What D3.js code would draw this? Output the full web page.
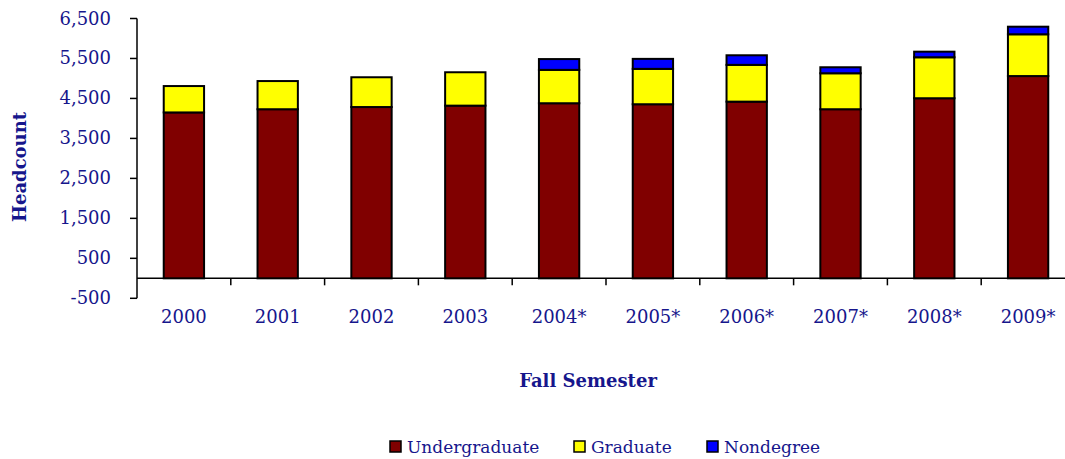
<!DOCTYPE html>
<html>
<head>
<meta charset="utf-8">
<script src="https://cdn.jsdelivr.net/npm/d3@7"></script>
<style>
  body { margin: 0; background: #fff; }
  text { font-family: "DejaVu Serif", "Liberation Serif", serif; fill: #16168c; }
</style>
</head>
<body>
<div class="chart"></div>
<script>
const years = ["2000", "2001", "2002", "2003", "2004*", "2005*", "2006*", "2007*", "2008*", "2009*"];
const undergraduate = [4150, 4230, 4285, 4320, 4380, 4355, 4420, 4230, 4505, 5060];
const graduate = [660, 705, 745, 835, 835, 885, 920, 900, 1025, 1045];
const nondegree = [0, 0, 0, 0, 270, 250, 240, 150, 140, 190];
const seriesNames = ["Undergraduate", "Graduate", "Nondegree"];
const seriesColors = ["#800000", "#ffff00", "#0000ff"];
const yTicks = [-500, 500, 1500, 2500, 3500, 4500, 5500, 6500];

const width = 1065, height = 459;

const svg = d3.select("div.chart").append("svg")
    .attr("width", width)
    .attr("height", height);

const x = d3.scaleBand()
    .domain(years)
    .range([137, 1075])
    .paddingInner(0.57)
    .paddingOuter(0.285);

const y = d3.scaleLinear()
    .domain([-500, 6500])
    .range([298.3, 18.5]);

// build rows for the stack
let rows = years.map((yr, i) => ({
  year: yr,
  Undergraduate: undergraduate[i],
  Graduate: graduate[i],
  Nondegree: nondegree[i]
}));
let stacked = d3.stack().keys(seriesNames)(rows);

// plain hyphen for negatives, like the original
const fmt = d3.formatLocale({ decimal: ".", thousands: ",", grouping: [3], currency: ["$", ""], minus: "-" }).format(",");

// y axis
svg.append("line")
    .attr("x1", x.range()[0]).attr("x2", x.range()[0])
    .attr("y1", y(6500)).attr("y2", y(-500))
    .attr("stroke", "black").attr("stroke-width", 1.5);

svg.selectAll("line.ytick")
    .data(yTicks)
    .enter().append("line")
    .attr("class", "ytick")
    .attr("x1", x.range()[0] - 7).attr("x2", x.range()[0])
    .attr("y1", d => y(d)).attr("y2", d => y(d))
    .attr("stroke", "black").attr("stroke-width", 1.5);

svg.selectAll("text.ytick")
    .data(yTicks)
    .enter().append("text")
    .attr("class", "ytick")
    .attr("x", 111)
    .attr("y", d => y(d))
    .attr("dy", 6)
    .attr("text-anchor", "end")
    .style("font-size", "18px")
    .text(d => fmt(d));

// x axis along zero
svg.append("line")
    .attr("x1", x.range()[0]).attr("x2", x.range()[1])
    .attr("y1", y(0)).attr("y2", y(0))
    .attr("stroke", "black").attr("stroke-width", 1.5);

let boundaries = years.slice(1).map(d => x(d) - x.step() * x.paddingInner() / 2);
svg.selectAll("line.xtick")
    .data(boundaries)
    .enter().append("line")
    .attr("class", "xtick")
    .attr("x1", d => d).attr("x2", d => d)
    .attr("y1", y(0)).attr("y2", y(0) + 7)
    .attr("stroke", "black").attr("stroke-width", 1.5);

svg.selectAll("text.xlabel")
    .data(years)
    .enter().append("text")
    .attr("class", "xlabel")
    .attr("x", d => x(d) + x.bandwidth() / 2)
    .attr("y", 323)
    .attr("text-anchor", "middle")
    .style("font-size", "18px")
    .text(d => d);

// bars
svg.selectAll("g.series")
    .data(stacked)
    .enter().append("g")
    .attr("class", "series")
    .style("fill", (d, i) => seriesColors[i])
    .selectAll("rect")
    .data(d => d.filter(s => s[1] - s[0] > 0))
    .enter().append("rect")
    .attr("x", d => x(d.data.year))
    .attr("y", d => y(d[1]))
    .attr("width", x.bandwidth())
    .attr("height", d => y(d[0]) - y(d[1]))
    .style("stroke", "black")
    .style("stroke-width", 2);

// axis titles
svg.append("text")
    .attr("transform", "translate(26,167) rotate(-90)")
    .attr("text-anchor", "middle")
    .style("font-size", "18px")
    .style("font-weight", "bold")
    .text("Headcount");

svg.append("text")
    .attr("x", 588)
    .attr("y", 387)
    .attr("text-anchor", "middle")
    .style("font-size", "18px")
    .style("font-weight", "bold")
    .text("Fall Semester");

// legend
const legendX = [390, 574, 707];
let legend = svg.selectAll("g.legend")
    .data(seriesNames)
    .enter().append("g")
    .attr("class", "legend")
    .attr("transform", (d, i) => `translate(${legendX[i]},441)`);

legend.append("rect")
    .attr("width", 11).attr("height", 11)
    .style("fill", (d, i) => seriesColors[i])
    .style("stroke", "black")
    .style("stroke-width", 1.5);

legend.append("text")
    .attr("x", 17)
    .attr("y", 12)
    .style("font-size", "17px")
    .text(d => d);
</script>
</body>
</html>
